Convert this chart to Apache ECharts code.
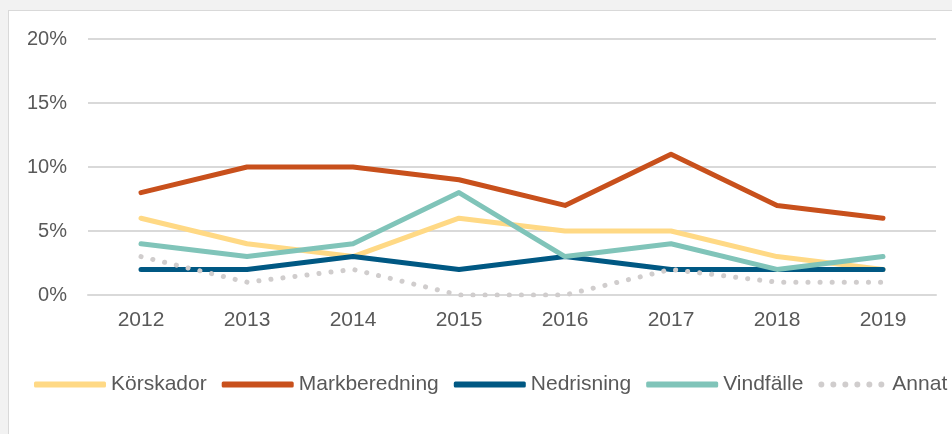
<!DOCTYPE html>
<html>
<head>
<meta charset="utf-8">
<script src="https://cdn.jsdelivr.net/npm/echarts@6/dist/echarts.min.js"></script>
<style>
  html, body { margin: 0; padding: 0; background: #f2f2f2; width: 952px; height: 434px; overflow: hidden; }
  #panel { position: absolute; left: 8px; top: 10px; width: 944px; height: 424px; background: #fff;
           border-left: 1px solid #d9d9d9; border-top: 1px solid #d9d9d9; box-sizing: border-box; }
  #main { width: 100%; height: 100%; }
</style>
</head>
<body>
<div id="panel"><div id="main"></div></div>
<script>
const years = ['2012', '2013', '2014', '2015', '2016', '2017', '2018', '2019'];
const korskador = [6, 4, 3, 6, 5, 5, 3, 2];
const markberedning = [8, 10, 10, 9, 7, 11, 7, 6];
const nedrisning = [2, 2, 3, 2, 3, 2, 2, 2];
const vindfalle = [4, 3, 4, 8, 3, 4, 2, 3];
const annat = [3, 1, 2, 0, 0, 2, 1, 1];
const yTicks = [0, 5, 10, 15, 20];

const font = '"Liberation Sans", Arial, sans-serif';
const textColor = '#595959';

function solid(name, data, color) {
  return {
    name, type: 'line', data, symbol: 'none', smooth: false,
    lineStyle: { color, width: 5, cap: 'round', join: 'round' },
    itemStyle: { color }
  };
}

const chart = echarts.init(document.getElementById('main'));
chart.setOption({
  animation: false,
  textStyle: { fontFamily: font },
  grid: { left: 79, right: 16, top: 28, bottom: 139 },
  legend: {
    left: 25, top: 363, padding: 0,
    itemWidth: 72, itemHeight: 6, itemGap: 15,
    textStyle: { fontSize: 21, color: textColor, fontFamily: font },
    data: [
      { name: 'Körskador', icon: 'roundRect' },
      { name: 'Markberedning', icon: 'roundRect' },
      { name: 'Nedrisning', icon: 'roundRect' },
      { name: 'Vindfälle', icon: 'roundRect' },
      { name: 'Annat', icon: 'path://M3,0A3,3,0,1,1,3,6A3,3,0,1,1,3,0ZM15,0A3,3,0,1,1,15,6A3,3,0,1,1,15,0ZM27,0A3,3,0,1,1,27,6A3,3,0,1,1,27,0ZM39,0A3,3,0,1,1,39,6A3,3,0,1,1,39,0ZM51,0A3,3,0,1,1,51,6A3,3,0,1,1,51,0ZM63,0A3,3,0,1,1,63,6A3,3,0,1,1,63,0Z' }
    ]
  },
  xAxis: {
    type: 'category', data: years, boundaryGap: true,
    axisLine: { show: true, lineStyle: { color: '#d9d9d9', width: 2 } },
    axisTick: { show: false },
    axisLabel: { fontSize: 21, color: textColor, margin: 15 }
  },
  yAxis: {
    type: 'value', min: 0, max: 20, interval: 5,
    axisLine: { show: false }, axisTick: { show: false },
    splitLine: { lineStyle: { color: '#d9d9d9', width: 2 } },
    axisLabel: {
      fontSize: 20, color: textColor, margin: 21,
      customValues: yTicks,
      formatter: v => v + '%'
    }
  },
  series: [
    solid('Körskador', korskador, '#ffd985'),
    solid('Markberedning', markberedning, '#c8501c'),
    solid('Nedrisning', nedrisning, '#005883'),
    solid('Vindfälle', vindfalle, '#80c4b9'),
    {
      name: 'Annat', type: 'line', data: annat, symbol: 'none',
      lineStyle: { color: '#d0cdcd', width: 5, type: [0.1, 12], cap: 'round' },
      itemStyle: { color: '#d0cdcd' }
    }
  ]
});
</script>
</body>
</html>
